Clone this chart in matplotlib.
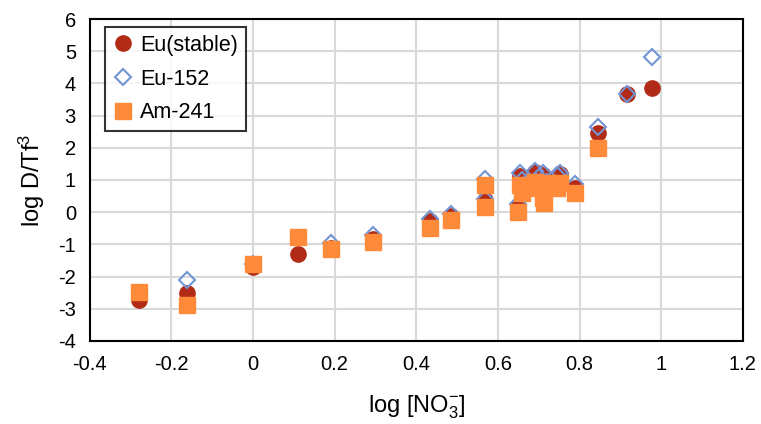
import numpy as np
import matplotlib.pyplot as plt

plt.rcParams['font.family'] = ['Liberation Sans', 'DejaVu Sans']
plt.rcParams['mathtext.default'] = 'regular'
plt.rcParams['axes.unicode_minus'] = False

# log [NO3-]
x = [-0.28, -0.163, 0.0, 0.11, 0.19, 0.293, 0.434, 0.485, 0.568, 0.568,
     0.649, 0.655, 0.658, 0.69, 0.70, 0.71, 0.712, 0.72, 0.745, 0.752,
     0.79, 0.846, 0.917, 0.978]

eu_stable = [-2.72, -2.52, -1.7, -1.3, -1.1, -0.82, -0.28, -0.12, 0.8, 0.38,
             0.2, 1.12, 0.95, 1.25, 1.1, 1.15, 0.55, 0.9, 1.05, 1.2,
             0.75, 2.46, 3.67, 3.86]
eu_152 = [np.nan, -2.12, -1.6, np.nan, -0.97, -0.72, -0.2, -0.05, 1.03, 0.4,
          0.25, 1.22, 1.0, 1.28, 1.1, 1.22, 0.6, 0.95, 1.15, 1.22,
          0.87, 2.64, 3.67, 4.82]
am_241 = [-2.49, -2.89, -1.6, -0.78, -1.15, -0.94, -0.5, -0.25, 0.84, 0.16,
          0.0, 0.85, 0.6, 0.93, 0.75, 0.45, 0.28, 0.9, 0.75, 0.9,
          0.6, 2.0, np.nan, np.nan]

fig = plt.figure(figsize=(7.61, 4.24), dpi=100)
ax = fig.add_axes([0.118, 0.196, 0.858, 0.759])

ax.plot(x, eu_stable, 'o', ms=11, color='#B22B17', mec='#B22B17', label='Eu(stable)', zorder=3)
ax.plot(x, eu_152, 'D', ms=8, mfc='none', mec='#7294D4', mew=1.5, label='Eu-152', zorder=4)
ax.plot(x, am_241, 's', ms=11, color='#FF8A3A', mec='#FF8A3A', label='Am-241', zorder=5)

ax.set_xlim(-0.4, 1.2)
ax.set_ylim(-4, 6)
ax.set_xticks(np.arange(-0.4, 1.21, 0.2))
ax.set_xticklabels(['-0.4', '-0.2', '0', '0.2', '0.4', '0.6', '0.8', '1', '1.2'])
ax.set_yticks(range(-4, 7))
ax.tick_params(length=0, labelsize=14.5, pad=10)
ax.grid(True, color='#D9D9D9', lw=1.5)
ax.set_axisbelow(True)
for s in ax.spines.values():
    s.set_linewidth(1.5)

ax.set_xlabel('log [NO$_3^{-}$]', fontsize=17, labelpad=14)
ax.set_ylabel('log D/Tf$^3$', fontsize=17, labelpad=8)

leg = ax.legend(loc='upper left', fontsize=15.5, frameon=True, fancybox=False,
                edgecolor='black', handlelength=1.0, handletextpad=0.3,
                borderpad=0.35, labelspacing=0.6, borderaxespad=0,
                bbox_to_anchor=(0.023, 0.975))
leg.get_frame().set_linewidth(1.5)

fig.savefig('out.png', dpi=100)
